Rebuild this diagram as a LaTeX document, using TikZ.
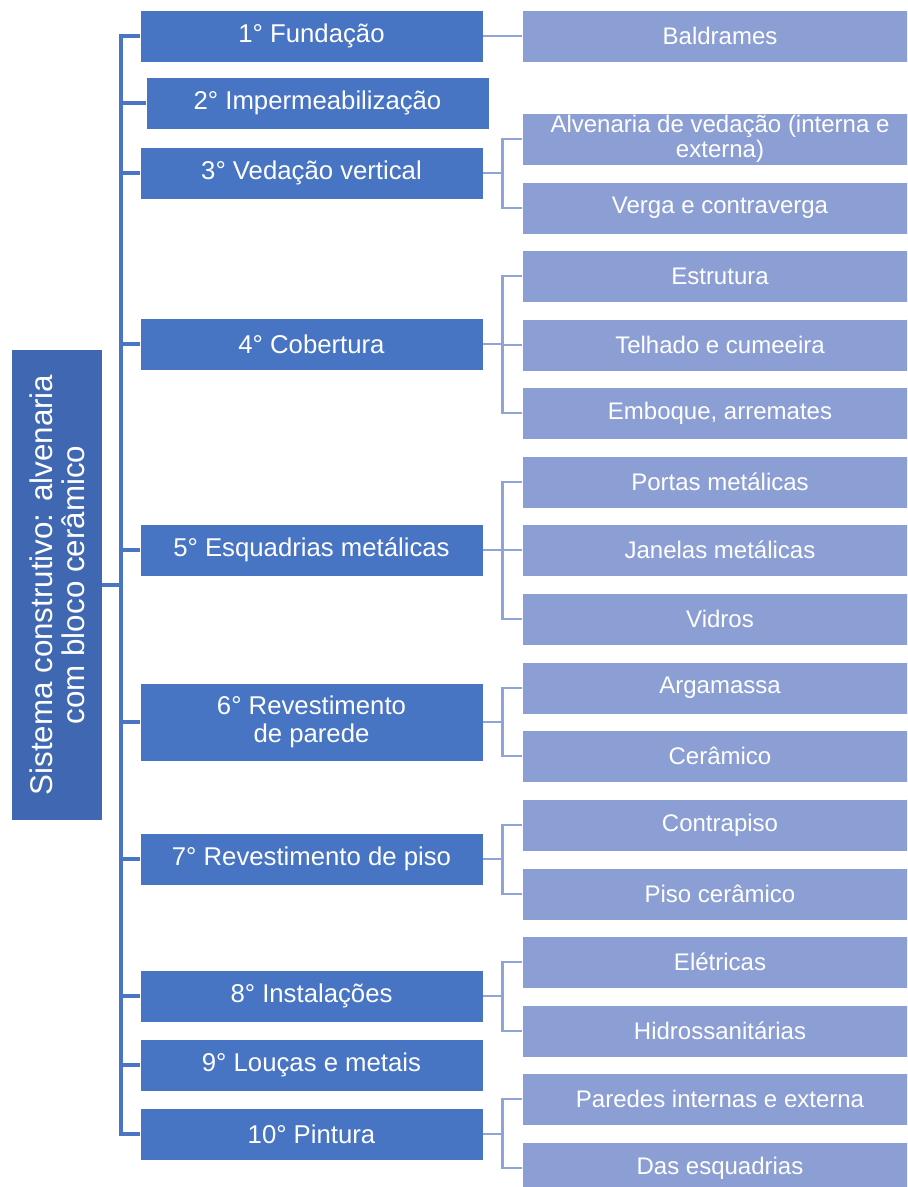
\documentclass[tikz,border=0pt]{standalone}
\usepackage{fontspec}
\setmainfont{Liberation Sans}
\definecolor{rootblue}{HTML}{3F67B2}
\definecolor{stepblue}{HTML}{4874C4}
\definecolor{itemblue}{HTML}{8C9FD5}
\definecolor{trunkblue}{HTML}{4A74C4}
\definecolor{twigblue}{HTML}{8EA3D6}
\tikzset{
  rootbox/.style={fill=rootblue, text=white, rotate=90, align=center,
    minimum width=352.5pt, minimum height=67.5pt, inner sep=0pt,
    font=\fontsize{23.5}{24}\selectfont},
  stepbox/.style={fill=stepblue, draw=white, line width=0.6pt, text=white,
    align=center, minimum width=257.25pt, minimum height=39pt, inner sep=0pt,
    font=\fontsize{19.3}{20.5}\selectfont},
  itembox/.style={fill=itemblue, draw=white, line width=0.6pt, text=white,
    align=center, minimum width=297pt, minimum height=39pt, inner sep=0pt,
    font=\fontsize{18}{18.5}\selectfont},
  trunk/.style={draw=trunkblue, line width=2.4pt},
  twig/.style={draw=twigblue, line width=2.2pt}
}
\begin{document}
\begin{tikzpicture}[x=0.75pt,y=-0.75pt]
\clip (0,0) rectangle (907,1187);

% root
\node[rootbox] (root) at (57,585) {Sistema construtivo: alvenaria\\com bloco cerâmico};
\coordinate (tk) at (121,585);

% steps
\node[stepbox] (s1) at (311.5,36) {1° Fundação};
\node[stepbox] (s2) at (317.5,103) {2° Impermeabilização};
\node[stepbox] (s3) at (311.5,173) {3° Vedação vertical};
\node[stepbox] (s4) at (311.5,344) {4° Cobertura};
\node[stepbox] (s5) at (311.5,550) {5° Esquadrias metálicas};
\node[stepbox, minimum height=58.5pt] (s6) at (311.5,722) {6° Revestimento\\de parede};
\node[stepbox] (s7) at (311.5,859) {7° Revestimento de piso};
\node[stepbox] (s8) at (311.5,996) {8° Instalações};
\node[stepbox] (s9) at (311.5,1065) {9° Louças e metais};
\node[stepbox] (s10) at (311.5,1134) {10° Pintura};

% items
\node[itembox] (i1) at (720,36) {Baldrames};
\node[itembox] (i3a) at (720,139) {Alvenaria de vedação (interna e\\externa)};
\node[itembox] (i3b) at (720,208) {Verga e contraverga};
\node[itembox] (i4a) at (720,276) {Estrutura};
\node[itembox] (i4b) at (720,345) {Telhado e cumeeira};
\node[itembox] (i4c) at (720,413) {Emboque, arremates};
\node[itembox] (i5a) at (720,482) {Portas metálicas};
\node[itembox] (i5b) at (720,550) {Janelas metálicas};
\node[itembox] (i5c) at (720,619) {Vidros};
\node[itembox] (i6a) at (720,688) {Argamassa};
\node[itembox] (i6b) at (720,756) {Cerâmico};
\node[itembox] (i7a) at (720,825) {Contrapiso};
\node[itembox] (i7b) at (720,894) {Piso cerâmico};
\node[itembox] (i8a) at (720,962) {Elétricas};
\node[itembox] (i8b) at (720,1031) {Hidrossanitárias};
\node[itembox] (i10a) at (720,1099) {Paredes internas e externa};
\node[itembox] (i10b) at (720,1168) {Das esquadrias};

% trunk
\draw[trunk] (root.south) -- (tk);
\draw[trunk] (tk) |- (s1.west);
\draw[trunk] (tk) |- (s2.west);
\draw[trunk] (tk) |- (s3.west);
\draw[trunk] (tk) |- (s4.west);
\draw[trunk] (tk) |- (s5.west);
\draw[trunk] (tk) |- (s6.west);
\draw[trunk] (tk) |- (s7.west);
\draw[trunk] (tk) |- (s8.west);
\draw[trunk] (tk) |- (s9.west);
\draw[trunk] (tk) |- (s10.west);

% twigs
\draw[twig] (s1.east) -- (i1.west);
\draw[twig] (s3.east) -- ++(19,0) |- (i3a.west);
\draw[twig] (s3.east) -- ++(19,0) |- (i3b.west);
\draw[twig] (s4.east) -- ++(19,0) |- (i4a.west);
\draw[twig] (s4.east) -- ++(19,0) |- (i4b.west);
\draw[twig] (s4.east) -- ++(19,0) |- (i4c.west);
\draw[twig] (s5.east) -- ++(19,0) |- (i5a.west);
\draw[twig] (s5.east) -- ++(19,0) |- (i5b.west);
\draw[twig] (s5.east) -- ++(19,0) |- (i5c.west);
\draw[twig] (s6.east) -- ++(19,0) |- (i6a.west);
\draw[twig] (s6.east) -- ++(19,0) |- (i6b.west);
\draw[twig] (s7.east) -- ++(19,0) |- (i7a.west);
\draw[twig] (s7.east) -- ++(19,0) |- (i7b.west);
\draw[twig] (s8.east) -- ++(19,0) |- (i8a.west);
\draw[twig] (s8.east) -- ++(19,0) |- (i8b.west);
\draw[twig] (s10.east) -- ++(19,0) |- (i10a.west);
\draw[twig] (s10.east) -- ++(19,0) |- (i10b.west);
\end{tikzpicture}
\end{document}
